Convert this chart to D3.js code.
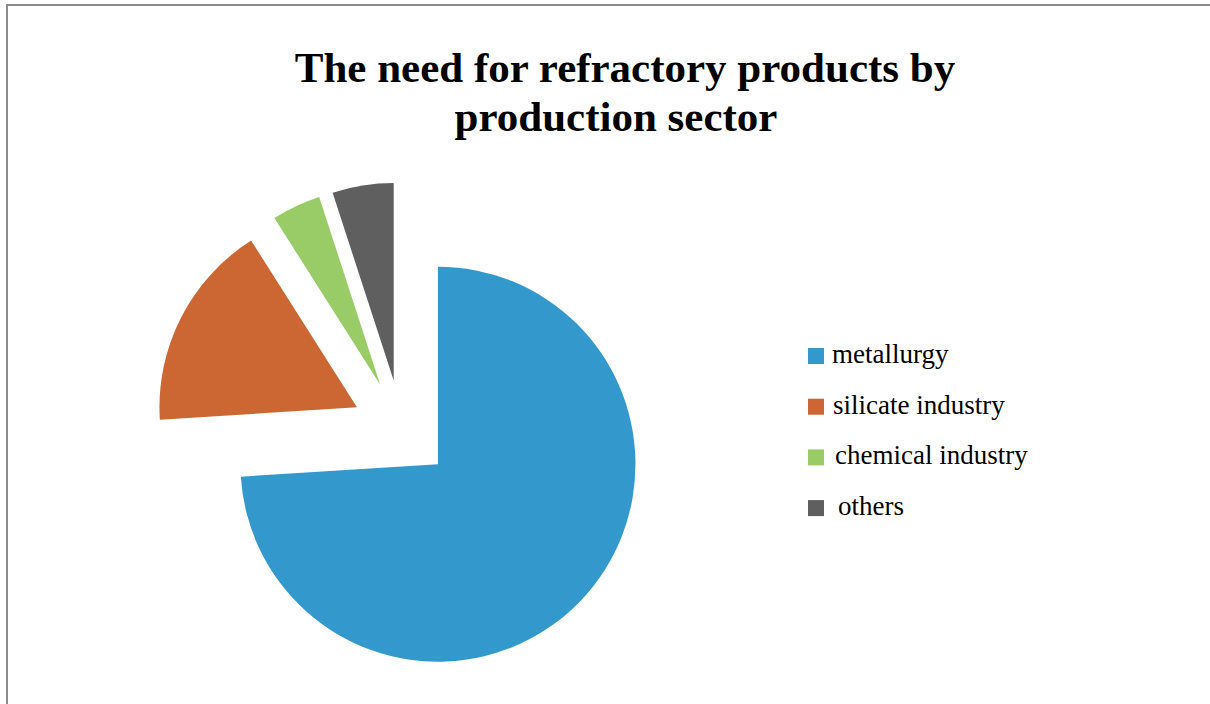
<!DOCTYPE html>
<html>
<head>
<meta charset="utf-8">
<script src="https://cdn.jsdelivr.net/npm/d3@7/dist/d3.min.js"></script>
<style>
  html, body { margin: 0; padding: 0; background: #ffffff; }
  svg { display: block; }
</style>
</head>
<body>
<svg id="chart" width="1210" height="704"></svg>
<script>
// Demand for refractory products, share by production sector (%)
const sectors = ["metallurgy", "silicate industry", "chemical industry", "others"];
const shares = [74, 17, 4, 5];
const sectorColors = ["#3399cc", "#cc6633", "#99cc66", "#5f5f5f"];
const titleLines = ["The need for refractory products by", "production sector"];

const svg = d3.select("#chart");
const W = 1210, H = 704;

svg.append("rect").attr("width", W).attr("height", H).attr("fill", "#ffffff");

// chart area frame (top and left edges visible)
svg.append("path")
  .attr("d", `M7,${H} L7,5 L${W},5`)
  .attr("fill", "none")
  .attr("stroke", "#8c8c8c")
  .attr("stroke-width", 2);

// title
const title = svg.append("text")
  .attr("font-family", "'Liberation Serif', 'Times New Roman', serif")
  .attr("font-weight", "bold")
  .attr("font-size", 43)
  .attr("fill", "#000000")
  .attr("text-anchor", "middle");
const titleX = [625, 616];
const titleY = [82, 131];
titleLines.forEach((t, i) => {
  title.append("tspan").attr("x", titleX[i]).attr("y", titleY[i]).text(t);
});

// exploded pie
const cx = 401.5, cy = 430, radius = 197.5, explode = 50;
const color = d3.scaleOrdinal().domain(sectors).range(sectorColors);

const pie = d3.pie().sort(null).value(d => d.value).startAngle(0).endAngle(2 * Math.PI);
const arc = d3.arc().innerRadius(0).outerRadius(radius);

const data = sectors.map((s, i) => ({ name: s, value: shares[i] }));
const arcs = pie(data);

const g = svg.append("g").attr("transform", `translate(${cx},${cy})`);
g.selectAll("path.slice")
  .data(arcs)
  .join("path")
  .attr("class", "slice")
  .attr("d", arc)
  .attr("fill", d => color(d.data.name))
  .attr("transform", d => {
    const mid = (d.startAngle + d.endAngle) / 2;
    const dx = Math.sin(mid) * explode;
    const dy = -Math.cos(mid) * explode;
    return `translate(${dx},${dy})`;
  });

// legend
const legendX = 808, legendY0 = 348, legendStep = 50.7, box = 16;
const legend = svg.append("g")
  .attr("font-family", "'Liberation Serif', 'Times New Roman', serif")
  .attr("font-size", 27)
  .attr("fill", "#000000");
const textOffsets = [24, 25, 27, 30];
const items = legend.selectAll("g.item")
  .data(sectors)
  .join("g")
  .attr("class", "item")
  .attr("transform", (d, i) => `translate(${legendX},${legendY0 + i * legendStep})`);
items.append("rect")
  .attr("width", box)
  .attr("height", box)
  .attr("fill", d => color(d));
items.append("text")
  .attr("x", (d, i) => textOffsets[i])
  .attr("y", 15)
  .text(d => d);
</script>
</body>
</html>
